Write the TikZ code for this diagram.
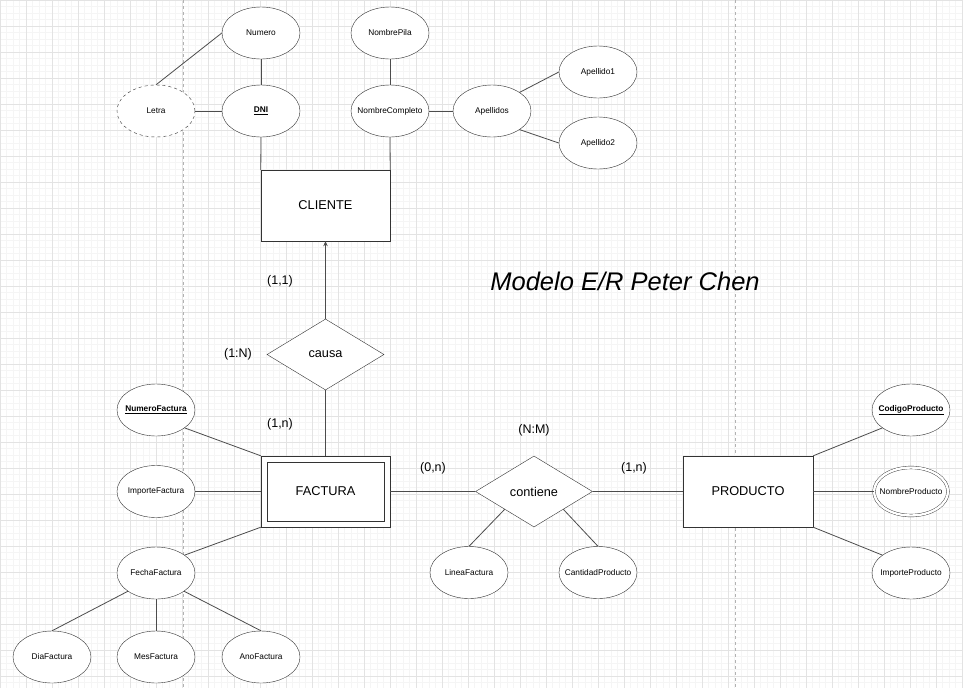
\documentclass[tikz,border=0pt]{standalone}
\usepackage{fontspec}
\setmainfont{Liberation Sans}
\usetikzlibrary{shapes.geometric,arrows.meta,calc}

\tikzset{
  attr/.style={ellipse, draw=black!80, fill=white, minimum width=78pt, minimum height=52pt,
    inner xsep=-16pt, inner ysep=0pt, font=\fontsize{8.3}{10}\selectfont},
  entity/.style={rectangle, draw=black!80, fill=white, minimum width=129pt, minimum height=71pt,
    font=\fontsize{12.8}{15}\selectfont},
  rel/.style={diamond, draw=black!80, fill=white, minimum width=117pt, minimum height=71pt,
    inner sep=0pt, font=\fontsize{12.7}{15}\selectfont},
  card/.style={font=\fontsize{12.5}{15}\selectfont},
  link/.style={draw=black!70, line width=0.8pt},
  gridminor/.style={draw=black!4, line width=0.5pt},
  gridmajor/.style={draw=black!11, line width=0.5pt},
  pagebreak/.style={draw=black!30, line width=0.6pt, dash pattern=on 3pt off 3pt},
}

\begin{document}
\begin{tikzpicture}[x=1pt, y=-1pt]
  \useasboundingbox (0,0) rectangle (963,688);
  % GRID
  \fill[white] (0,0) rectangle (963,688);
  \foreach \gx in {0,6.5,...,963} \draw[gridminor] (\gx,0) -- (\gx,688);
  \foreach \gy in {0,6.5,...,688} \draw[gridminor] (0,\gy) -- (963,\gy);
  \foreach \gx in {0,26,...,963} \draw[gridmajor] (\gx,0) -- (\gx,688);
  \foreach \gy in {0,26,...,688} \draw[gridmajor] (0,\gy) -- (963,\gy);
  \draw[pagebreak] (183,0) -- (183,688);
  \draw[pagebreak] (735,0) -- (735,688);

  %% CLIENTE
  \node[entity] (cliente) at (325.5,205.5) {CLIENTE};
  % attributes
  \node[attr] (numero) at (261,33) {Numero};
  \node[attr] (dni) at (261,111) {\underline{\textbf{DNI}}};
  \node[attr, dashed] (letra) at (156,111) {Letra};
  \node[attr] (nombrepila) at (390,33) {NombrePila};
  \node[attr] (nombrecompleto) at (390,111) {NombreCompleto};
  \node[attr] (apellidos) at (492,111) {Apellidos};
  \node[attr] (apellido1) at (598,72) {Apellido1};
  \node[attr] (apellido2) at (598,143) {Apellido2};

  %% causa
  \node[rel] (causa) at (325.5,354.5) {causa};
  \node[card] (cardcliente) at (280,281) {(1,1)};
  \node[card] (tipocausa) at (238,354) {(1:N)};
  \node[card] (cardfacturacausa) at (280,424) {(1,n)};

  %% FACTURA (weak entity)
  \node[entity] (factura) at (325.5,491.5) {FACTURA};
  \draw[draw=black!80] ($(factura.north west)+(6,6)$) rectangle ($(factura.south east)+(-6,-6)$);
  % attributes
  \node[attr] (numerofactura) at (156,410) {\underline{\textbf{NumeroFactura}}};
  \node[attr] (importefactura) at (156,491.5) {ImporteFactura};
  \node[attr] (fechafactura) at (156,573) {FechaFactura};
  \node[attr] (diafactura) at (52,657) {DiaFactura};
  \node[attr] (mesfactura) at (156,657) {MesFactura};
  \node[attr] (anofactura) at (261,657) {AnoFactura};

  %% contiene
  \node[rel] (contiene) at (534,491.5) {contiene};
  \node[card] (tipocontiene) at (534,430) {(N:M)};
  \node[card] (cardfactura) at (433,468) {(0,n)};
  \node[card] (cardproducto) at (634,468) {(1,n)};
  \node[attr] (lineafactura) at (469,572.5) {LineaFactura};
  \node[attr] (cantidadproducto) at (598,572.5) {CantidadProducto};

  %% PRODUCTO
  \node[entity, minimum width=130pt] (producto) at (748,491.5) {PRODUCTO};
  \node[attr] (codigoproducto) at (911,410) {\underline{\textbf{CodigoProducto}}};
  \node[attr, double, double distance=2.4pt, minimum width=74pt, minimum height=48pt]
    (nombreproducto) at (911,491.5) {NombreProducto};
  \node[attr] (importeproducto) at (911,573) {ImporteProducto};

  \node[font=\fontsize{25.5}{30}\selectfont\itshape] (titulo) at (625,281) {Modelo E/R Peter Chen};

  %% LINKS
  \draw[link] (numero) -- (dni);
  \draw[link] (letra) -- (dni);
  \draw[link] (letra.north) -- (numero.west);
  \draw[link] (nombrepila) -- (nombrecompleto);
  \draw[link] (nombrecompleto) -- (apellidos);
  \draw[link] (apellidos.34) -- (apellido1.west);
  \draw[link] (apellidos.-34) -- (apellido2.west);
  \draw[link] (dni.south) -- (cliente.north west);
  \draw[link] (nombrecompleto.south) -- (cliente.north east);

  \draw[link, -{Stealth[length=5pt, width=4.5pt]}] (causa.north) -- (cliente.south);
  \draw[link] (causa.south) -- (factura.north);

  \draw[link] (numerofactura.-32) -- (factura.north west);
  \draw[link] (importefactura) -- (factura);
  \draw[link] (fechafactura.32) -- (factura.south west);
  \draw[link] (fechafactura.-147) -- (diafactura.north);
  \draw[link] (fechafactura) -- (mesfactura);
  \draw[link] (fechafactura.-33) -- (anofactura.north);

  \draw[link] (factura) -- (contiene);
  \draw[link] (contiene) -- (producto);
  \draw[link] (contiene.south west) -- (lineafactura.north);
  \draw[link] (contiene.south east) -- (cantidadproducto.north);

  \draw[link] (producto.north east) -- (codigoproducto.-148);
  \draw[link] (producto) -- (nombreproducto);
  \draw[link] (producto.south east) -- (importeproducto.148);
\end{tikzpicture}
\end{document}
